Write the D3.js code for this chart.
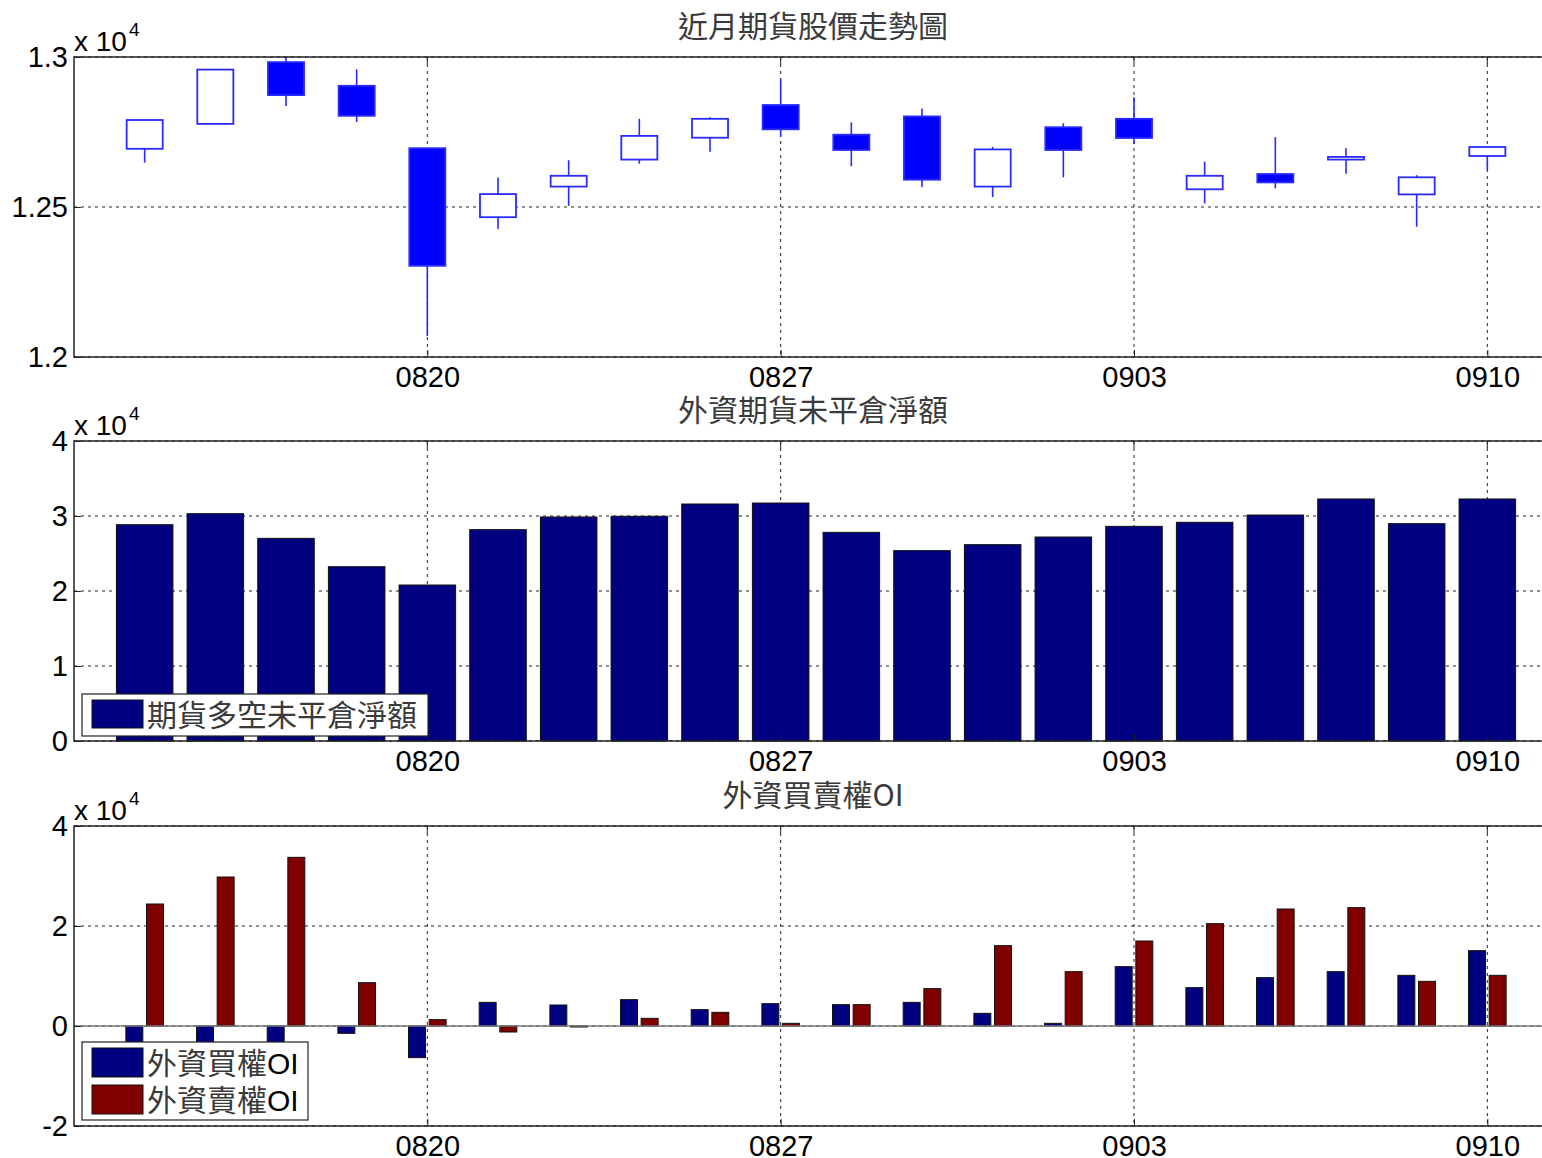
<!DOCTYPE html>
<html><head><meta charset="utf-8">
<script src="https://cdn.jsdelivr.net/npm/d3@7"></script>
<style>
html,body{margin:0;padding:0;background:#fff;overflow:hidden}
text{font-family:"Liberation Sans",Arial,sans-serif}
.cjk{font-family:"Noto Sans CJK TC","Noto Sans CJK SC",sans-serif}
</style></head><body>
<svg id="c" width="1542" height="1158"></svg>
<script>
// ---- data ----
const dates = ['0814','0815','0816','0817','0820','0821','0822','0823','0824','0827','0828','0829','0830','0831','0903','0904','0905','0906','0907','0910'];
const tickDates = ['0820','0827','0903','0910'];
const openP  = [12694,12777,12983,12904,12696,12466,12568,12658,12731,12840,12741,12802,12568,12766,12794,12559,12610,12658,12542,12670];
const highP  = [12790,12958,12999,12959,12696,12598,12656,12794,12799,12926,12782,12828,12700,12779,12866,12651,12733,12696,12606,12700];
const lowP   = [12648,12777,12837,12783,12070,12427,12504,12644,12684,12734,12636,12567,12533,12599,12710,12512,12562,12611,12434,12623];
const closeP = [12790,12958,12873,12804,12304,12543,12604,12737,12794,12759,12690,12591,12692,12690,12730,12604,12582,12667,12599,12700];
const netFutures = [28840,30310,27020,23240,20800,28180,29870,29960,31600,31730,27820,25380,26180,27200,28620,29160,30130,32270,28980,32270];
const callOI = [-4000,-4000,-4000,-1470,-6330,4730,4200,5270,3270,4470,4270,4730,2530,530,11870,7670,9670,10870,10130,15070];
const putOI  = [24400,29800,33730,8670,1270,-1200,-200,1530,2730,530,4270,7470,16070,10870,17000,20470,23400,23670,8930,10130];
const titles = ['近月期貨股價走勢圖','外資期貨未平倉淨額','外資買賣權OI'];
const legend2 = ['期貨多空未平倉淨額'];
const legend3 = ['外資買權OI','外資賣權OI'];
const yTicks1 = [12000,12500,13000];
const yTicks2 = [0,10000,20000,30000,40000];
const yTicks3 = [-20000,0,20000,40000];

const svg = d3.select('#c');
const x = d3.scaleLinear().domain([0,21]).range([74,1558]);
const idx = d => dates.indexOf(d)+1;

function panel(top, domain, ticks, fmt, title){
  const y = d3.scaleLinear().domain(domain).range([top+300, top]);
  const g = svg.append('g');
  const grid = g.append('g').attr('stroke','#222').attr('stroke-width',1).attr('stroke-dasharray','3,4');
  tickDates.forEach(d=>{ grid.append('line').attr('x1',x(idx(d))).attr('x2',x(idx(d))).attr('y1',top).attr('y2',top+300); });
  ticks.forEach(t=>{ grid.append('line').attr('x1',x(0)).attr('x2',x(21)).attr('y1',y(t)).attr('y2',y(t)); });
  const data = g.append('g');
  const ax = svg.append('g');
  ax.append('rect').attr('x',x(0)).attr('y',top).attr('width',x(21)-x(0)).attr('height',300)
    .attr('fill','none').attr('stroke','#222').attr('stroke-width',1.5);
  const ya = d3.axisLeft(y).tickValues(ticks).tickFormat(fmt).tickSizeInner(-7).tickSizeOuter(0).tickPadding(6);
  ax.append('g').attr('transform',`translate(${x(0)},0)`).call(ya).call(s=>{
    s.select('.domain').remove();
    s.selectAll('text').attr('font-size',29).attr('fill','#000').attr('font-family','"Liberation Sans",Arial,sans-serif');
    s.selectAll('line').attr('stroke','#222');
  });
  const xa = d3.axisBottom(x).tickValues(tickDates.map(idx)).tickFormat(v=>dates[v-1]).tickSizeInner(-7).tickSizeOuter(0).tickPadding(9);
  ax.append('g').attr('transform',`translate(0,${top+300})`).call(xa).call(s=>{
    s.select('.domain').remove();
    s.selectAll('text').attr('font-size',29).attr('fill','#000').attr('font-family','"Liberation Sans",Arial,sans-serif');
    s.selectAll('line').attr('stroke','#222');
  });
  tickDates.forEach(d=>{ ax.append('line').attr('x1',x(idx(d))).attr('x2',x(idx(d))).attr('y1',top).attr('y2',top+7).attr('stroke','#222'); });
  const ex = ax.append('text').attr('x',x(0)).attr('y',top-6).attr('font-size',28).attr('fill','#000');
  ex.append('tspan').text('x 10');
  ex.append('tspan').attr('font-size',19).attr('dy',-15).attr('dx',2).text('4');
  ax.append('text').attr('class','cjk').attr('x',813).attr('y',top-20).attr('text-anchor','middle')
    .attr('font-size',30).attr('fill','#3a3a3a').text(title);
  return {y, data, ax};
}

// Panel 1: candles
const p1 = panel(57,[12000,13000],yTicks1,d=>d/10000,titles[0]);
const cw = 0.51;
dates.forEach((d,i)=>{
  const cx = x(i+1), up = closeP[i] >= openP[i];
  p1.data.append('line').attr('x1',cx).attr('x2',cx).attr('y1',p1.y(highP[i])).attr('y2',p1.y(lowP[i]))
    .attr('stroke','#2a2aff').attr('stroke-width',1.6);
  const t = Math.max(openP[i],closeP[i]), b = Math.min(openP[i],closeP[i]);
  p1.data.append('rect').attr('x',x(i+1-cw/2)).attr('width',x(cw)-x(0))
    .attr('y',p1.y(t)).attr('height',Math.max(1,p1.y(b)-p1.y(t)))
    .attr('fill',up?'#fff':'#0000ff').attr('stroke','#2a2aff').attr('stroke-width',1.8);
});

// Panel 2: bars
const p2 = panel(441,[0,40000],yTicks2,d=>d/10000,titles[1]);
p2.data.selectAll('rect').data(netFutures).enter().append('rect')
  .attr('x',(v,i)=>x(i+1-0.4)).attr('width',x(0.8)-x(0))
  .attr('y',v=>p2.y(v)).attr('height',v=>p2.y(0)-p2.y(v))
  .attr('fill','#000080').attr('stroke','#111').attr('stroke-width',1);
{
  const L = p2.ax.append('g');
  L.append('rect').attr('x',82).attr('y',694).attr('width',346).attr('height',42).attr('fill','#fff').attr('stroke','#222').attr('stroke-width',1.2);
  L.append('rect').attr('x',92).attr('y',700).attr('width',51).attr('height',28).attr('fill','#000080').attr('stroke','#111');
  L.append('text').attr('class','cjk').attr('x',147).attr('y',726).attr('font-size',30).attr('fill','#3a3a3a').text(legend2[0]);
}

// Panel 3: grouped bars
const p3 = panel(826,[-20000,40000],yTicks3,d=>d/10000,titles[2]);
const bw = 0.24, off = 0.146;
[[callOI,'#000080',-off],[putOI,'#800000',off]].forEach(([arr,col,o])=>{
  p3.data.append('g').selectAll('rect').data(arr).enter().append('rect')
    .attr('x',(v,i)=>x(i+1+o-bw/2)).attr('width',x(bw)-x(0))
    .attr('y',v=>p3.y(Math.max(0,v))).attr('height',v=>Math.abs(p3.y(v)-p3.y(0)))
    .attr('fill',col).attr('stroke','#111').attr('stroke-width',1);
});
p3.data.append('line').attr('x1',x(0)).attr('x2',x(21)).attr('y1',p3.y(0)).attr('y2',p3.y(0)).attr('stroke','#777').attr('stroke-width',1.5);
{
  const L = p3.ax.append('g');
  L.append('rect').attr('x',82).attr('y',1042).attr('width',226).attr('height',78).attr('fill','#fff').attr('stroke','#222').attr('stroke-width',1.2);
  [['#000080',1048],['#800000',1085]].forEach(([c,yy],k)=>{
    L.append('rect').attr('x',92).attr('y',yy).attr('width',51).attr('height',29).attr('fill',c).attr('stroke','#111');
    const t = L.append('text').attr('x',147).attr('y',yy+26).attr('font-size',30);
    t.append('tspan').attr('class','cjk').attr('fill','#3a3a3a').text(legend3[k].slice(0,4));
    t.append('tspan').attr('fill','#000').attr('font-family','"Liberation Sans",Arial,sans-serif').text(legend3[k].slice(4));
  });
}
</script>
</body></html>
